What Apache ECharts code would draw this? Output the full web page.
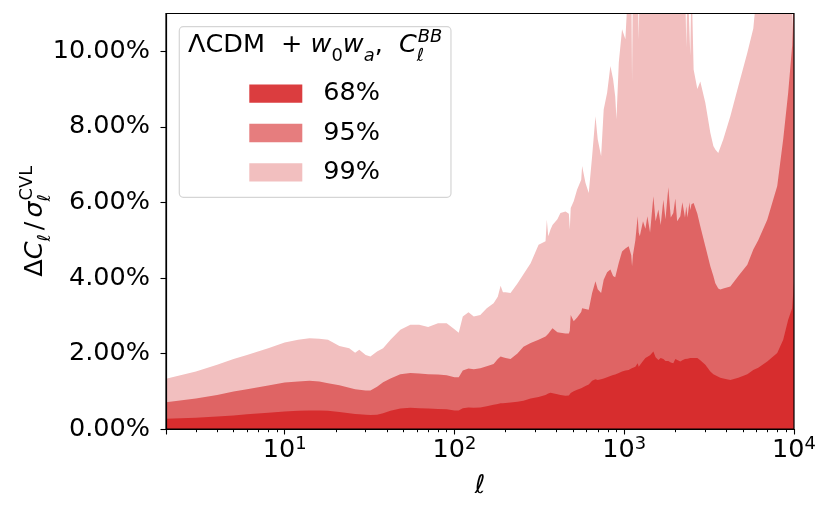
<!DOCTYPE html>
<html>
<head>
<meta charset="utf-8">
<script src="https://cdn.jsdelivr.net/npm/echarts@6/dist/echarts.min.js"></script>
<style>html,body{margin:0;padding:0;background:#fff;}#c{width:831px;height:515px;}</style>
</head>
<body>
<div id="c"></div>
<script>
// multipole values
const ell = [2, 3, 4, 5, 6, 8, 10, 12, 14, 16, 18, 21, 24, 26, 27.5, 30, 32, 35, 38, 42, 48, 55, 62, 70, 80, 90, 100, 106, 112, 121, 130,
  142, 155, 170, 180, 187, 193, 200, 214, 235, 255, 281, 313, 344, 350, 357, 368, 378, 404, 421, 451, 472, 478, 484, 504, 528, 558, 565, 591, 618, 647, 677, 698, 731, 757, 793, 829, 860, 885, 900, 929, 971, 1016,
  1062, 1100, 1112, 1125, 1163, 1200, 1217, 1235, 1290, 1333, 1369, 1420, 1485, 1530, 1589, 1640, 1700, 1750, 1819, 1880, 1946, 2000, 2050, 2140, 2200, 2280, 2321, 2360, 2420, 2450, 2490, 2563, 2696, 2806,
  3004, 3215, 3350, 3440, 3580, 3680, 3834, 4217, 4701, 5310, 5758, 6157, 6957, 7967, 8637, 9240, 9750, 10000];
// 99% band (percent)
const p99 = [1.33, 1.52, 1.70, 1.85, 1.96, 2.14, 2.29, 2.36, 2.40, 2.39, 2.36, 2.20, 2.14, 2.02, 2.10, 1.96, 1.92, 2.05, 2.14, 2.36, 2.63, 2.76, 2.76, 2.70, 2.80, 2.80, 2.64, 2.55, 2.98, 3.09, 2.98,
  3.02, 3.20, 3.33, 3.50, 3.79, 3.62, 3.62, 3.60, 3.85, 4.10, 4.39, 4.88, 4.97, 5.54, 5.10, 5.28, 5.40, 5.55, 5.72, 5.76, 5.70, 5.28, 5.85, 6.03, 6.34, 6.60, 6.96, 6.52, 6.25, 7.22, 8.28, 7.67, 7.22, 8.46, 8.90, 9.61, 9.26, 8.80, 8.20, 9.70, 10.58, 10.32,
  12, 12, 9.17, 12, 12, 12, 10.30, 12, 12, 12, 12, 12, 12, 12, 12, 12, 12, 12, 12, 12, 12, 12, 12, 12, 12, 12, 10.10, 12, 12, 9.88, 12, 9.52, 9.00, 9.20,
  8.64, 7.84, 7.49, 7.40, 7.31, 7.45, 7.67, 8.28, 9.08, 9.96, 10.60, 12, 12, 12, 12, 12, 12, 12];
// 95% band (percent)
const p95 = [0.71, 0.81, 0.90, 0.99, 1.05, 1.15, 1.23, 1.26, 1.28, 1.26, 1.21, 1.16, 1.09, 1.05, 1.04, 1.02, 1.02, 1.12, 1.24, 1.34, 1.45, 1.48, 1.47, 1.45, 1.44, 1.42, 1.37, 1.37, 1.55, 1.60, 1.58,
  1.61, 1.66, 1.72, 1.85, 1.92, 1.90, 1.88, 1.85, 2.00, 2.18, 2.28, 2.36, 2.45, 2.49, 2.52, 2.60, 2.67, 2.56, 2.55, 2.53, 2.53, 2.60, 3.02, 2.85, 2.95, 3.10, 3.20, 3.18, 3.16, 3.60, 3.91, 3.70, 3.60, 3.95, 4.15, 4.22, 4.05, 4.02, 4.00, 4.40, 4.70, 4.78,
  4.84, 4.60, 4.31, 4.60, 5.00, 5.63, 5.20, 5.10, 5.50, 5.30, 5.63, 5.20, 6.16, 5.50, 5.81, 5.40, 6.07, 5.55, 6.40, 5.60, 5.72, 6.10, 5.50, 5.63, 6.00, 5.60, 5.90, 5.60, 6.00, 5.80, 5.95, 5.98, 5.70, 5.37,
  4.84, 4.31, 4.05, 3.86, 3.72, 3.69, 3.72, 3.77, 4.05, 4.35, 4.75, 5.00, 5.54, 6.43, 7.67, 8.90, 10.14, 12];
// 68% band (percent)
const p68 = [0.27, 0.30, 0.33, 0.36, 0.39, 0.43, 0.46, 0.48, 0.49, 0.49, 0.48, 0.45, 0.42, 0.40, 0.39, 0.38, 0.37, 0.38, 0.42, 0.48, 0.54, 0.56, 0.55, 0.54, 0.53, 0.52, 0.49, 0.49, 0.55, 0.57, 0.56,
  0.57, 0.60, 0.64, 0.66, 0.68, 0.68, 0.69, 0.70, 0.72, 0.75, 0.81, 0.85, 0.90, 0.93, 0.94, 0.96, 0.95, 0.92, 0.90, 0.88, 0.89, 0.92, 0.95, 1.00, 1.04, 1.08, 1.10, 1.14, 1.18, 1.28, 1.32, 1.30, 1.32, 1.34, 1.37, 1.40, 1.43, 1.44, 1.45, 1.48, 1.52, 1.55,
  1.56, 1.60, 1.58, 1.60, 1.65, 1.74, 1.65, 1.62, 1.80, 1.88, 1.85, 1.95, 2.05, 1.90, 1.83, 1.88, 1.85, 1.80, 1.80, 1.76, 1.74, 1.85, 1.82, 1.79, 1.82, 1.85, 1.85, 1.86, 1.88, 1.88, 1.88, 1.88, 1.88, 1.82,
  1.70, 1.52, 1.45, 1.42, 1.38, 1.36, 1.34, 1.30, 1.36, 1.45, 1.56, 1.62, 1.79, 2.01, 2.36, 2.89, 3.20, 3.90];

const seriesNames = ['68%', '95%', '99%'];
const yTicks = [0, 2, 4, 6, 8, 10];
const minorMultipliers = [2, 3, 4, 5, 6, 7, 8, 9];
const decades = [1, 10, 100, 1000];

const FONT = 'DejaVu Sans';
const FS = 25.5, SFS = 17.9;

const minorTickPos = [];
decades.forEach(d => minorMultipliers.forEach(k => {
  const v = k * d;
  if (v >= 2 && v < 10000) minorTickPos.push(Math.log10(v));
}));

function pairs(vals) { return ell.map((l, i) => [l, vals[i]]); }

const base = { fontFamily: FONT, color: '#000', align: 'left', fontWeight: 'normal' };
const rich = {
  n: Object.assign({}, base, { fontSize: FS, lineHeight: 26 }),
  i: Object.assign({}, base, { fontSize: FS, lineHeight: 26, fontStyle: 'italic' }),
  sl: Object.assign({}, base, { fontSize: FS, lineHeight: 26, padding: [0, 4, 0, 4] }),
  sb: Object.assign({}, base, { fontSize: SFS, lineHeight: 18, padding: [21, 0, 0, 0] }),
  sbi: Object.assign({}, base, { fontSize: SFS, lineHeight: 18, fontStyle: 'italic', padding: [21, 0, 0, 0] }),
  sbw: Object.assign({}, base, { fontSize: SFS, lineHeight: 18, fontStyle: 'italic', padding: [21, 0, 0, 0], width: 1 }),
  sp: Object.assign({}, base, { fontSize: SFS, lineHeight: 18, padding: [0, 0, 16, 0] }),
  spi: Object.assign({}, base, { fontSize: SFS, lineHeight: 18, fontStyle: 'italic', padding: [0, 0, 16, 0] })
};

const areaColors = { '99%': '#f2bfbf', '95%': '#df6464', '68%': '#d72d2e' };
const legendColors = { '68%': '#db3d3f', '95%': '#e67d7e', '99%': '#f2bfbf' };
const seriesVals = { '68%': p68, '95%': p95, '99%': p99 };

const chart = echarts.init(document.getElementById('c'), null, { renderer: 'canvas' });
const option = {
  animation: false,
  textStyle: { fontFamily: FONT },
  grid: {
    left: 166, right: 37, top: 13.5, bottom: 86, containLabel: false, outerBoundsMode: 'none',
    show: true, borderColor: '#000', borderWidth: 1.2, backgroundColor: 'transparent', z: 10
  },
  title: {
    text: '{n|ΛCDM  + }{i|w}{sb|0}{i|w}{sbi|a}{n|,  }{i|C}{sbw|ℓ}{spi|BB}',
    left: 188, top: 32.5, padding: 0, z: 12,
    textStyle: { fontWeight: 'normal', fontSize: FS, fontFamily: FONT, color: '#000', rich: rich }
  },
  legend: {
    orient: 'vertical', left: 179.3, top: 26.7,
    padding: [54, 71, 12, 70],
    itemWidth: 53, itemHeight: 18.3, itemGap: 13.3,
    icon: 'rect', selectedMode: false,
    backgroundColor: 'rgba(255,255,255,0.8)', borderColor: '#d5d5d5', borderWidth: 1.2, borderRadius: 4,
    textStyle: { fontSize: FS, fontFamily: FONT, color: '#000', lineHeight: 25, padding: [0, 0, 0, 16] },
    itemStyle: { borderWidth: 0 },
    data: seriesNames.map(n => ({ name: n, itemStyle: { color: legendColors[n], borderWidth: 0 } })),
    z: 11
  },
  xAxis: [{
    type: 'log', logBase: 10, min: 2, max: 10000, position: 'bottom', z: 10,
    name: 'ℓ', nameLocation: 'middle', nameGap: 44, nameMoveOverlap: false,
    nameTextStyle: { fontSize: FS, fontStyle: 'italic', fontFamily: FONT, color: '#000' },
    axisLine: { show: true, lineStyle: { color: '#000', width: 1.2 } },
    axisTick: { show: true, length: 5.5, lineStyle: { color: '#000', width: 1.1 } },
    splitLine: { show: false }, minorTick: { show: false },
    axisLabel: {
      margin: 8.7,
      formatter: function (v) {
        const lg = Math.log10(v), e = Math.round(lg);
        if (Math.abs(lg - e) > 1e-6) return '';
        return '{b|10}{s|' + e + '}';
      },
      rich: {
        b: { fontSize: FS, lineHeight: 26, fontFamily: FONT, color: '#000' },
        s: { fontSize: SFS, lineHeight: 18, fontFamily: FONT, color: '#000', padding: [0, 0, 12.6, 0] }
      }
    }
  }, {
    type: 'value', min: Math.log10(2), max: 4, position: 'bottom', offset: 0, z: 10,
    axisLine: { show: false }, splitLine: { show: false }, axisLabel: { show: false },
    axisTick: { show: true, length: 3.2, customValues: minorTickPos, lineStyle: { color: '#000', width: 1 } }
  }],
  yAxis: {
    type: 'value', min: 0, max: 11, z: 10,
    name: '{n|Δ}{i|C}{sbi|ℓ}{sl|/}{i|σ}{sbw|ℓ}{sp|CVL}',
    nameLocation: 'middle', nameGap: 118, nameRotate: 90, nameMoveOverlap: false,
    nameTextStyle: { fontWeight: 'normal', rich: rich },
    axisLine: { show: true, lineStyle: { color: '#000', width: 1.2 } },
    axisTick: { show: true, length: 5.5, customValues: yTicks, lineStyle: { color: '#000', width: 1.1 } },
    splitLine: { show: false },
    axisLabel: {
      customValues: yTicks, margin: 16, fontSize: FS, fontFamily: FONT, color: '#000',
      formatter: v => (yTicks.indexOf(v) >= 0 ? v.toFixed(2) + '%' : '')
    }
  },
  series: ['99%', '95%', '68%'].map(n => ({
    type: 'line', name: n, xAxisIndex: 0, data: pairs(seriesVals[n]),
    showSymbol: false, symbol: 'none', silent: true, sampling: null,
    lineStyle: { width: 0, color: areaColors[n] },
    itemStyle: { color: legendColors[n] },
    areaStyle: { color: areaColors[n], opacity: 1 },
    z: 2
  }))
};
chart.setOption(option);
</script>
</body>
</html>
